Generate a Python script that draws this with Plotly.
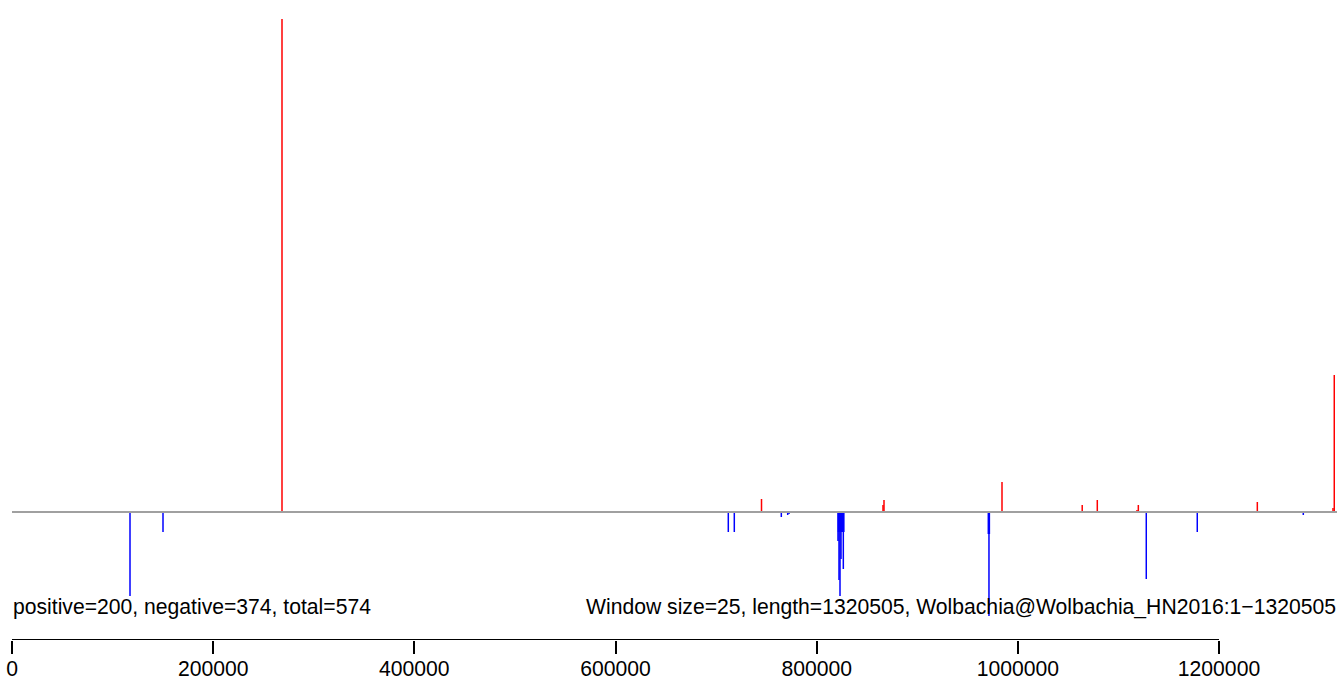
import plotly.graph_objects as go

# ---- data (positions in bp, values in arbitrary skew units) ----
pos_x = [268434, 745160, 865950, 866944, 984258, 1064000, 1079000,
         1118475, 1119800, 1238100, 1313340, 1314600]
pos_y = [493, 13, 7, 12, 30, 7, 12, 2, 7, 10, 4, 137]

neg_x = [117316, 150124, 712150, 718110, 764850, 771200, 772500,
         821200, 822200, 823200, 824200, 825200, 826500,
         821700, 822700, 823700, 824700, 825700, 827000,
         970650, 971700, 971300, 1127700, 1178400, 1283800]
neg_y = [-84, -20, -20, -20, -5, -3, -2,
         -29, -68, -84, -47, -20, -57,
         -20, -20, -20, -20, -20, -20,
         -22, -22, -104, -67, -20, -3]

genome_length = 1320505
tick_vals = [0, 200000, 400000, 600000, 800000, 1000000, 1200000]
tick_text = ["0", "200000", "400000", "600000", "800000", "1000000", "1200000"]

stats_text = "positive=200, negative=374, total=574"
info_text = "Window size=25, length=1320505, Wolbachia@Wolbachia_HN2016:1\u22121320505"

# ---- geometry ----
W, H = 1337, 688
px_per_bp = 1207 / 1200000.0
x_left = -12 / px_per_bp
x_right = (W - 12) / px_per_bp
y_top = 512
y_bottom = -128


def stems(xs, ys):
    X, Y = [], []
    for x, y in zip(xs, ys):
        X += [x, x, None]
        Y += [0, y, None]
    return X, Y


fig = go.Figure()
px_, py_ = stems(pos_x, pos_y)
fig.add_trace(go.Scatter(x=px_, y=py_, mode="lines",
                         line=dict(color="#FF0000", width=1.5),
                         hoverinfo="skip", showlegend=False))
nx_, ny_ = stems(neg_x, neg_y)
fig.add_trace(go.Scatter(x=nx_, y=ny_, mode="lines",
                         line=dict(color="#0000FF", width=1.5),
                         hoverinfo="skip", showlegend=False))
# baseline
fig.add_trace(go.Scatter(x=[0, genome_length], y=[0, 0], mode="lines",
                         line=dict(color="#A0A0A0", width=2),
                         hoverinfo="skip", showlegend=False))
# bottom axis line (from first to last tick)
fig.add_trace(go.Scatter(x=[tick_vals[0], tick_vals[-1]], y=[y_bottom, y_bottom],
                         mode="lines", line=dict(color="#000000", width=2),
                         cliponaxis=False, hoverinfo="skip", showlegend=False))

font_family = "Liberation Sans, Arial, sans-serif"
fs = 21.15

fig.update_layout(
    width=W, height=H,
    margin=dict(l=0, r=0, t=0, b=H - 640, pad=0),
    paper_bgcolor="white", plot_bgcolor="white",
    showlegend=False,
    font=dict(family=font_family, size=fs, color="#000000"),
    xaxis=dict(range=[x_left, x_right], showgrid=False, zeroline=False,
               showline=False, ticks="outside", ticklen=13, tickwidth=2,
               tickcolor="#000000", tickvals=tick_vals, ticktext=tick_text,
               ticklabelstandoff=-3,
               tickfont=dict(family=font_family, size=fs, color="#000000")),
    yaxis=dict(range=[y_bottom, y_top], showgrid=False, zeroline=False,
               showline=False, showticklabels=False, ticks=""),
    annotations=[
        dict(text=stats_text, xref="paper", yref="paper",
             x=11 / W, y=(640 - 607) / 640.0, xanchor="left", yanchor="middle",
             showarrow=False, font=dict(family=font_family, size=fs, color="#000000")),
        dict(text=info_text, xref="paper", yref="paper",
             x=1338.5 / W, y=(640 - 607) / 640.0, xanchor="right", yanchor="middle",
             showarrow=False, font=dict(family=font_family, size=fs, color="#000000")),
    ],
)

fig.write_html("out.html", config={"displayModeBar": False, "staticPlot": True},
               post_script="document.body.style.margin='0';document.body.style.overflow='hidden';")
